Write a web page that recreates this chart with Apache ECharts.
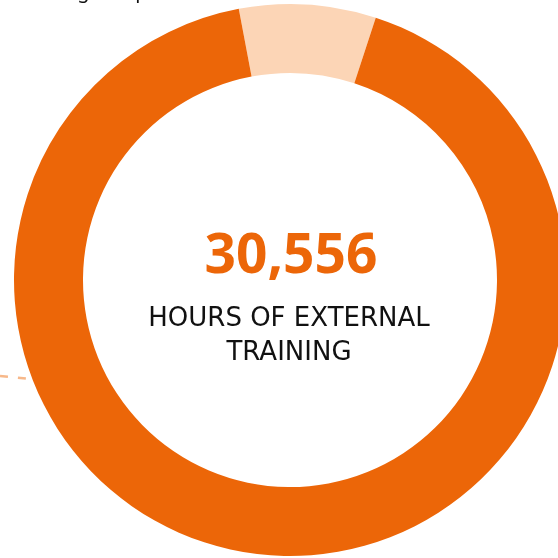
<!DOCTYPE html>
<html>
<head>
<meta charset="utf-8">
<script src="https://cdn.jsdelivr.net/npm/echarts@6/dist/echarts.min.js"></script>
<style>
  html, body { margin: 0; padding: 0; background: #fff; }
  #chart { width: 558px; height: 558px; }
</style>
</head>
<body>
<div id="chart"></div>
<script>
// share of hours: external training vs. the rest of the ring
const segmentNames = ['Other', 'External training'];
const segmentValues = [8, 92];
const segmentColors = ['#fcd5b6', '#ec6608'];

const headline = '30,556';
const caption = 'HOURS OF EXTERNAL\nTRAINING';

const chart = echarts.init(document.getElementById('chart'));

const option = {
  animation: false,
  series: [
    {
      type: 'pie',
      center: [290, 280],
      radius: [207, 276],
      startAngle: 100.7,
      clockwise: true,
      silent: true,
      label: { show: false },
      labelLine: { show: false },
      itemStyle: { borderWidth: 0 },
      data: segmentNames.map((name, i) => ({
        name,
        value: segmentValues[i],
        itemStyle: { color: segmentColors[i] },
      })),
    },
  ],
  graphic: [
    {
      type: 'text',
      x: 291,
      y: 257,
      style: {
        text: headline,
        textAlign: 'center',
        textVerticalAlign: 'middle',
        fill: '#ec6608',
        font: 'bold 55px "Noto Sans", sans-serif',
      },
    },
    {
      type: 'text',
      x: 289,
      y: 302,
      style: {
        text: caption,
        textAlign: 'center',
        fill: '#111',
        font: '26px "DejaVu Sans", sans-serif',
        lineHeight: 34,
      },
    },
    {
      // descenders of a line of text cut off above the chart
      type: 'text',
      x: 65,
      y: -18,
      style: {
        text: 'ng setup',
        fill: '#111',
        font: '20px "Noto Sans", sans-serif',
      },
    },
    {
      type: 'line',
      shape: { x1: 0, y1: 376, x2: 30, y2: 379 },
      style: {
        stroke: '#f7b88a',
        lineWidth: 2.5,
        lineDash: [8, 10],
      },
    },
  ],
};

chart.setOption(option);
</script>
</body>
</html>
